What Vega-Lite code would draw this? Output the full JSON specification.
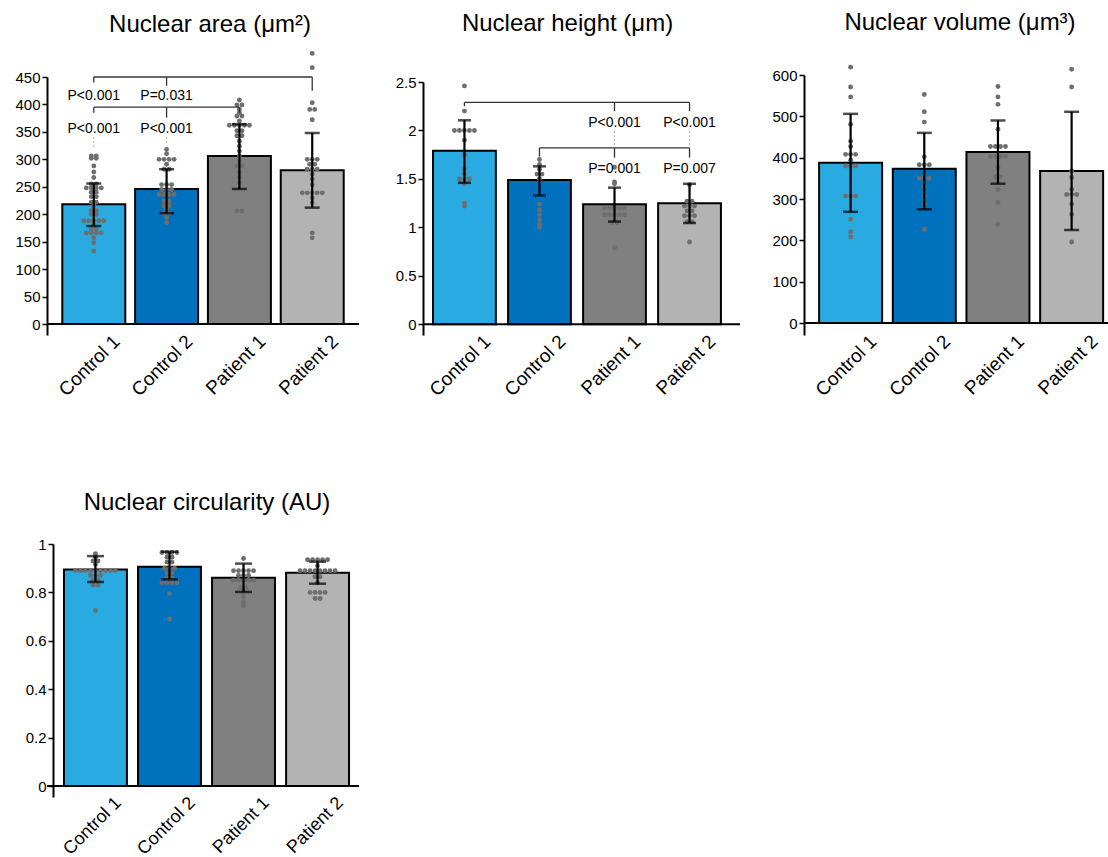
{
  "$schema": "https://vega.github.io/schema/vega-lite/v6.json",
  "padding": {"left": 14, "top": 11, "right": 0, "bottom": 0},
  "background": "white",
  "config": {
    "view": {"stroke": null},
    "font": "Liberation Sans",
    "title": {"fontSize": 24, "font": "Liberation Sans", "fontWeight": "normal", "color": "black", "anchor": "middle"},
    "axisY": {"domainColor": "black", "domainWidth": 2, "tickColor": "black", "tickWidth": 1.5, "tickSize": 5, "labelFontSize": 15, "labelColor": "black", "labelPadding": 2, "grid": false, "labelFont": "Liberation Sans", "labelOverlap": false},
    "axisX": {"domain": false, "ticks": false, "labelAngle": -45, "labelAlign": "right", "labelBaseline": "middle", "labelFontSize": 19, "labelColor": "black", "labelOffset": 23, "labelPadding": 3, "grid": false, "labelFont": "Liberation Sans"}
  },
  "datasets": {
    "summ": [
      {"panel": "area", "group": "Control 1", "mean": 218, "lo": 178.5, "hi": 256},
      {"panel": "area", "group": "Control 2", "mean": 246, "lo": 202, "hi": 282},
      {"panel": "area", "group": "Patient 1", "mean": 306, "lo": 246, "hi": 364},
      {"panel": "area", "group": "Patient 2", "mean": 280, "lo": 212, "hi": 348},
      {"panel": "height", "group": "Control 1", "mean": 1.79, "lo": 1.46, "hi": 2.105},
      {"panel": "height", "group": "Control 2", "mean": 1.49, "lo": 1.33, "hi": 1.63},
      {"panel": "height", "group": "Patient 1", "mean": 1.24, "lo": 1.06, "hi": 1.41},
      {"panel": "height", "group": "Patient 2", "mean": 1.25, "lo": 1.045, "hi": 1.45},
      {"panel": "volume", "group": "Control 1", "mean": 388, "lo": 269, "hi": 506},
      {"panel": "volume", "group": "Control 2", "mean": 373, "lo": 275, "hi": 460},
      {"panel": "volume", "group": "Patient 1", "mean": 414, "lo": 337, "hi": 490},
      {"panel": "volume", "group": "Patient 2", "mean": 368, "lo": 225, "hi": 511},
      {"panel": "circ", "group": "Control 1", "mean": 0.895, "lo": 0.843, "hi": 0.95},
      {"panel": "circ", "group": "Control 2", "mean": 0.906, "lo": 0.854, "hi": 0.968},
      {"panel": "circ", "group": "Patient 1", "mean": 0.861, "lo": 0.802, "hi": 0.919},
      {"panel": "circ", "group": "Patient 2", "mean": 0.881, "lo": 0.836, "hi": 0.927}
    ],
    "pts": [
      {"panel":"area","group":"Control 1","value":306},{"panel":"area","group":"Control 1","value":306},{"panel":"area","group":"Control 1","value":302},{"panel":"area","group":"Control 1","value":302},{"panel":"area","group":"Control 1","value":288},{"panel":"area","group":"Control 1","value":277},{"panel":"area","group":"Control 1","value":267},{"panel":"area","group":"Control 1","value":255},{"panel":"area","group":"Control 1","value":255},{"panel":"area","group":"Control 1","value":248},{"panel":"area","group":"Control 1","value":248},{"panel":"area","group":"Control 1","value":248},{"panel":"area","group":"Control 1","value":248},{"panel":"area","group":"Control 1","value":240},{"panel":"area","group":"Control 1","value":240},{"panel":"area","group":"Control 1","value":232},{"panel":"area","group":"Control 1","value":232},{"panel":"area","group":"Control 1","value":222},{"panel":"area","group":"Control 1","value":222},{"panel":"area","group":"Control 1","value":215},{"panel":"area","group":"Control 1","value":207},{"panel":"area","group":"Control 1","value":207},{"panel":"area","group":"Control 1","value":200},{"panel":"area","group":"Control 1","value":200},{"panel":"area","group":"Control 1","value":188},{"panel":"area","group":"Control 1","value":188},{"panel":"area","group":"Control 1","value":188},{"panel":"area","group":"Control 1","value":188},{"panel":"area","group":"Control 1","value":188},{"panel":"area","group":"Control 1","value":180},{"panel":"area","group":"Control 1","value":172},{"panel":"area","group":"Control 1","value":172},{"panel":"area","group":"Control 1","value":166},{"panel":"area","group":"Control 1","value":166},{"panel":"area","group":"Control 1","value":166},{"panel":"area","group":"Control 1","value":166},{"panel":"area","group":"Control 1","value":157},{"panel":"area","group":"Control 1","value":148},{"panel":"area","group":"Control 1","value":133},
      {"panel":"area","group":"Control 2","value":318},{"panel":"area","group":"Control 2","value":310},{"panel":"area","group":"Control 2","value":300},{"panel":"area","group":"Control 2","value":300},{"panel":"area","group":"Control 2","value":300},{"panel":"area","group":"Control 2","value":300},{"panel":"area","group":"Control 2","value":291},{"panel":"area","group":"Control 2","value":282},{"panel":"area","group":"Control 2","value":282},{"panel":"area","group":"Control 2","value":254},{"panel":"area","group":"Control 2","value":254},{"panel":"area","group":"Control 2","value":254},{"panel":"area","group":"Control 2","value":245},{"panel":"area","group":"Control 2","value":245},{"panel":"area","group":"Control 2","value":245},{"panel":"area","group":"Control 2","value":236},{"panel":"area","group":"Control 2","value":236},{"panel":"area","group":"Control 2","value":236},{"panel":"area","group":"Control 2","value":236},{"panel":"area","group":"Control 2","value":224},{"panel":"area","group":"Control 2","value":224},{"panel":"area","group":"Control 2","value":215},{"panel":"area","group":"Control 2","value":215},{"panel":"area","group":"Control 2","value":209},{"panel":"area","group":"Control 2","value":202},{"panel":"area","group":"Control 2","value":202},{"panel":"area","group":"Control 2","value":194},{"panel":"area","group":"Control 2","value":185},
      {"panel":"area","group":"Patient 1","value":408},{"panel":"area","group":"Patient 1","value":399},{"panel":"area","group":"Patient 1","value":399},{"panel":"area","group":"Patient 1","value":391},{"panel":"area","group":"Patient 1","value":385},{"panel":"area","group":"Patient 1","value":379},{"panel":"area","group":"Patient 1","value":379},{"panel":"area","group":"Patient 1","value":370},{"panel":"area","group":"Patient 1","value":362},{"panel":"area","group":"Patient 1","value":362},{"panel":"area","group":"Patient 1","value":362},{"panel":"area","group":"Patient 1","value":362},{"panel":"area","group":"Patient 1","value":362},{"panel":"area","group":"Patient 1","value":352},{"panel":"area","group":"Patient 1","value":352},{"panel":"area","group":"Patient 1","value":343},{"panel":"area","group":"Patient 1","value":343},{"panel":"area","group":"Patient 1","value":333},{"panel":"area","group":"Patient 1","value":324},{"panel":"area","group":"Patient 1","value":315},{"panel":"area","group":"Patient 1","value":306},{"panel":"area","group":"Patient 1","value":297},{"panel":"area","group":"Patient 1","value":288},{"panel":"area","group":"Patient 1","value":288},{"panel":"area","group":"Patient 1","value":276},{"panel":"area","group":"Patient 1","value":267},{"panel":"area","group":"Patient 1","value":257},{"panel":"area","group":"Patient 1","value":206},{"panel":"area","group":"Patient 1","value":206},
      {"panel":"area","group":"Patient 2","value":493},{"panel":"area","group":"Patient 2","value":467},{"panel":"area","group":"Patient 2","value":403},{"panel":"area","group":"Patient 2","value":391},{"panel":"area","group":"Patient 2","value":391},{"panel":"area","group":"Patient 2","value":372},{"panel":"area","group":"Patient 2","value":300},{"panel":"area","group":"Patient 2","value":300},{"panel":"area","group":"Patient 2","value":300},{"panel":"area","group":"Patient 2","value":291},{"panel":"area","group":"Patient 2","value":291},{"panel":"area","group":"Patient 2","value":282},{"panel":"area","group":"Patient 2","value":282},{"panel":"area","group":"Patient 2","value":282},{"panel":"area","group":"Patient 2","value":273},{"panel":"area","group":"Patient 2","value":264},{"panel":"area","group":"Patient 2","value":254},{"panel":"area","group":"Patient 2","value":239},{"panel":"area","group":"Patient 2","value":239},{"panel":"area","group":"Patient 2","value":239},{"panel":"area","group":"Patient 2","value":239},{"panel":"area","group":"Patient 2","value":239},{"panel":"area","group":"Patient 2","value":230},{"panel":"area","group":"Patient 2","value":221},{"panel":"area","group":"Patient 2","value":166},{"panel":"area","group":"Patient 2","value":157},
      {"panel":"height","group":"Control 1","value":2.46},{"panel":"height","group":"Control 1","value":2.2},{"panel":"height","group":"Control 1","value":2.0},{"panel":"height","group":"Control 1","value":2.0},{"panel":"height","group":"Control 1","value":2.0},{"panel":"height","group":"Control 1","value":2.0},{"panel":"height","group":"Control 1","value":2.0},{"panel":"height","group":"Control 1","value":1.9},{"panel":"height","group":"Control 1","value":1.75},{"panel":"height","group":"Control 1","value":1.6},{"panel":"height","group":"Control 1","value":1.55},{"panel":"height","group":"Control 1","value":1.5},{"panel":"height","group":"Control 1","value":1.5},{"panel":"height","group":"Control 1","value":1.5},{"panel":"height","group":"Control 1","value":1.45},{"panel":"height","group":"Control 1","value":1.25},{"panel":"height","group":"Control 1","value":1.22},
      {"panel":"height","group":"Control 2","value":1.7},{"panel":"height","group":"Control 2","value":1.65},{"panel":"height","group":"Control 2","value":1.6},{"panel":"height","group":"Control 2","value":1.55},{"panel":"height","group":"Control 2","value":1.55},{"panel":"height","group":"Control 2","value":1.5},{"panel":"height","group":"Control 2","value":1.24},{"panel":"height","group":"Control 2","value":1.18},{"panel":"height","group":"Control 2","value":1.13},{"panel":"height","group":"Control 2","value":1.08},{"panel":"height","group":"Control 2","value":1.03},{"panel":"height","group":"Control 2","value":1.0},
      {"panel":"height","group":"Patient 1","value":1.62},{"panel":"height","group":"Patient 1","value":1.47},{"panel":"height","group":"Patient 1","value":1.45},{"panel":"height","group":"Patient 1","value":1.2},{"panel":"height","group":"Patient 1","value":1.2},{"panel":"height","group":"Patient 1","value":1.2},{"panel":"height","group":"Patient 1","value":1.2},{"panel":"height","group":"Patient 1","value":1.2},{"panel":"height","group":"Patient 1","value":1.13},{"panel":"height","group":"Patient 1","value":1.13},{"panel":"height","group":"Patient 1","value":1.13},{"panel":"height","group":"Patient 1","value":1.13},{"panel":"height","group":"Patient 1","value":1.13},{"panel":"height","group":"Patient 1","value":1.05},{"panel":"height","group":"Patient 1","value":1.05},{"panel":"height","group":"Patient 1","value":0.79},
      {"panel":"height","group":"Patient 2","value":1.44},{"panel":"height","group":"Patient 2","value":1.27},{"panel":"height","group":"Patient 2","value":1.27},{"panel":"height","group":"Patient 2","value":1.22},{"panel":"height","group":"Patient 2","value":1.22},{"panel":"height","group":"Patient 2","value":1.22},{"panel":"height","group":"Patient 2","value":1.17},{"panel":"height","group":"Patient 2","value":1.17},{"panel":"height","group":"Patient 2","value":1.12},{"panel":"height","group":"Patient 2","value":1.12},{"panel":"height","group":"Patient 2","value":1.12},{"panel":"height","group":"Patient 2","value":1.06},{"panel":"height","group":"Patient 2","value":1.06},{"panel":"height","group":"Patient 2","value":0.85},
      {"panel":"volume","group":"Control 1","value":619},{"panel":"volume","group":"Control 1","value":571},{"panel":"volume","group":"Control 1","value":547},{"panel":"volume","group":"Control 1","value":481},{"panel":"volume","group":"Control 1","value":440},{"panel":"volume","group":"Control 1","value":427},{"panel":"volume","group":"Control 1","value":408},{"panel":"volume","group":"Control 1","value":408},{"panel":"volume","group":"Control 1","value":408},{"panel":"volume","group":"Control 1","value":394},{"panel":"volume","group":"Control 1","value":380},{"panel":"volume","group":"Control 1","value":380},{"panel":"volume","group":"Control 1","value":380},{"panel":"volume","group":"Control 1","value":307},{"panel":"volume","group":"Control 1","value":307},{"panel":"volume","group":"Control 1","value":307},{"panel":"volume","group":"Control 1","value":251},{"panel":"volume","group":"Control 1","value":221},{"panel":"volume","group":"Control 1","value":208},
      {"panel":"volume","group":"Control 2","value":553},{"panel":"volume","group":"Control 2","value":511},{"panel":"volume","group":"Control 2","value":486},{"panel":"volume","group":"Control 2","value":402},{"panel":"volume","group":"Control 2","value":383},{"panel":"volume","group":"Control 2","value":383},{"panel":"volume","group":"Control 2","value":383},{"panel":"volume","group":"Control 2","value":350},{"panel":"volume","group":"Control 2","value":350},{"panel":"volume","group":"Control 2","value":350},{"panel":"volume","group":"Control 2","value":330},{"panel":"volume","group":"Control 2","value":307},{"panel":"volume","group":"Control 2","value":287},{"panel":"volume","group":"Control 2","value":227},
      {"panel":"volume","group":"Patient 1","value":572},{"panel":"volume","group":"Patient 1","value":547},{"panel":"volume","group":"Patient 1","value":529},{"panel":"volume","group":"Patient 1","value":469},{"panel":"volume","group":"Patient 1","value":427},{"panel":"volume","group":"Patient 1","value":427},{"panel":"volume","group":"Patient 1","value":427},{"panel":"volume","group":"Patient 1","value":427},{"panel":"volume","group":"Patient 1","value":403},{"panel":"volume","group":"Patient 1","value":403},{"panel":"volume","group":"Patient 1","value":403},{"panel":"volume","group":"Patient 1","value":403},{"panel":"volume","group":"Patient 1","value":377},{"panel":"volume","group":"Patient 1","value":353},{"panel":"volume","group":"Patient 1","value":353},{"panel":"volume","group":"Patient 1","value":323},{"panel":"volume","group":"Patient 1","value":292},{"panel":"volume","group":"Patient 1","value":239},
      {"panel":"volume","group":"Patient 2","value":614},{"panel":"volume","group":"Patient 2","value":571},{"panel":"volume","group":"Patient 2","value":368},{"panel":"volume","group":"Patient 2","value":352},{"panel":"volume","group":"Patient 2","value":323},{"panel":"volume","group":"Patient 2","value":311},{"panel":"volume","group":"Patient 2","value":311},{"panel":"volume","group":"Patient 2","value":311},{"panel":"volume","group":"Patient 2","value":288},{"panel":"volume","group":"Patient 2","value":263},{"panel":"volume","group":"Patient 2","value":196},
      {"panel":"circ","group":"Control 1","value":0.96},{"panel":"circ","group":"Control 1","value":0.945},{"panel":"circ","group":"Control 1","value":0.93},{"panel":"circ","group":"Control 1","value":0.93},{"panel":"circ","group":"Control 1","value":0.915},{"panel":"circ","group":"Control 1","value":0.89},{"panel":"circ","group":"Control 1","value":0.89},{"panel":"circ","group":"Control 1","value":0.89},{"panel":"circ","group":"Control 1","value":0.89},{"panel":"circ","group":"Control 1","value":0.89},{"panel":"circ","group":"Control 1","value":0.89},{"panel":"circ","group":"Control 1","value":0.89},{"panel":"circ","group":"Control 1","value":0.89},{"panel":"circ","group":"Control 1","value":0.89},{"panel":"circ","group":"Control 1","value":0.87},{"panel":"circ","group":"Control 1","value":0.87},{"panel":"circ","group":"Control 1","value":0.87},{"panel":"circ","group":"Control 1","value":0.85},{"panel":"circ","group":"Control 1","value":0.85},{"panel":"circ","group":"Control 1","value":0.83},{"panel":"circ","group":"Control 1","value":0.83},{"panel":"circ","group":"Control 1","value":0.725},
      {"panel":"circ","group":"Control 2","value":0.965},{"panel":"circ","group":"Control 2","value":0.965},{"panel":"circ","group":"Control 2","value":0.965},{"panel":"circ","group":"Control 2","value":0.965},{"panel":"circ","group":"Control 2","value":0.945},{"panel":"circ","group":"Control 2","value":0.945},{"panel":"circ","group":"Control 2","value":0.925},{"panel":"circ","group":"Control 2","value":0.925},{"panel":"circ","group":"Control 2","value":0.9},{"panel":"circ","group":"Control 2","value":0.9},{"panel":"circ","group":"Control 2","value":0.9},{"panel":"circ","group":"Control 2","value":0.88},{"panel":"circ","group":"Control 2","value":0.88},{"panel":"circ","group":"Control 2","value":0.86},{"panel":"circ","group":"Control 2","value":0.86},{"panel":"circ","group":"Control 2","value":0.84},{"panel":"circ","group":"Control 2","value":0.84},{"panel":"circ","group":"Control 2","value":0.84},{"panel":"circ","group":"Control 2","value":0.84},{"panel":"circ","group":"Control 2","value":0.795},{"panel":"circ","group":"Control 2","value":0.69},
      {"panel":"circ","group":"Patient 1","value":0.94},{"panel":"circ","group":"Patient 1","value":0.89},{"panel":"circ","group":"Patient 1","value":0.89},{"panel":"circ","group":"Patient 1","value":0.89},{"panel":"circ","group":"Patient 1","value":0.89},{"panel":"circ","group":"Patient 1","value":0.89},{"panel":"circ","group":"Patient 1","value":0.87},{"panel":"circ","group":"Patient 1","value":0.87},{"panel":"circ","group":"Patient 1","value":0.87},{"panel":"circ","group":"Patient 1","value":0.85},{"panel":"circ","group":"Patient 1","value":0.85},{"panel":"circ","group":"Patient 1","value":0.85},{"panel":"circ","group":"Patient 1","value":0.85},{"panel":"circ","group":"Patient 1","value":0.85},{"panel":"circ","group":"Patient 1","value":0.82},{"panel":"circ","group":"Patient 1","value":0.82},{"panel":"circ","group":"Patient 1","value":0.8},{"panel":"circ","group":"Patient 1","value":0.78},{"panel":"circ","group":"Patient 1","value":0.76},{"panel":"circ","group":"Patient 1","value":0.745},
      {"panel":"circ","group":"Patient 2","value":0.935},{"panel":"circ","group":"Patient 2","value":0.935},{"panel":"circ","group":"Patient 2","value":0.935},{"panel":"circ","group":"Patient 2","value":0.935},{"panel":"circ","group":"Patient 2","value":0.935},{"panel":"circ","group":"Patient 2","value":0.91},{"panel":"circ","group":"Patient 2","value":0.89},{"panel":"circ","group":"Patient 2","value":0.89},{"panel":"circ","group":"Patient 2","value":0.89},{"panel":"circ","group":"Patient 2","value":0.89},{"panel":"circ","group":"Patient 2","value":0.89},{"panel":"circ","group":"Patient 2","value":0.89},{"panel":"circ","group":"Patient 2","value":0.89},{"panel":"circ","group":"Patient 2","value":0.89},{"panel":"circ","group":"Patient 2","value":0.865},{"panel":"circ","group":"Patient 2","value":0.865},{"panel":"circ","group":"Patient 2","value":0.84},{"panel":"circ","group":"Patient 2","value":0.8},{"panel":"circ","group":"Patient 2","value":0.8},{"panel":"circ","group":"Patient 2","value":0.8},{"panel":"circ","group":"Patient 2","value":0.8},{"panel":"circ","group":"Patient 2","value":0.775},{"panel":"circ","group":"Patient 2","value":0.775}
    ],
    "brk": [
      {"panel": "area", "from": "Control 1", "to": "Patient 2", "y": 450},
      {"panel": "area", "from": "Control 1", "to": "Patient 1", "y": 395},
      {"panel": "height", "from": "Control 1", "to": "Patient 2", "y": 2.29},
      {"panel": "height", "from": "Control 2", "to": "Patient 2", "y": 1.82}
    ],
    "vt": [
      {"panel": "area", "group": "Control 1", "y1": 450, "y2": 440, "kind": "solid"},
      {"panel": "area", "group": "Control 2", "y1": 450, "y2": 434, "kind": "solid"},
      {"panel": "area", "group": "Patient 2", "y1": 450, "y2": 425, "kind": "solid"},
      {"panel": "area", "group": "Control 1", "y1": 395, "y2": 385, "kind": "solid"},
      {"panel": "area", "group": "Control 2", "y1": 395, "y2": 376, "kind": "solid"},
      {"panel": "area", "group": "Patient 1", "y1": 395, "y2": 385, "kind": "solid"},
      {"panel": "area", "group": "Control 1", "y1": 340, "y2": 320, "kind": "dotted"},
      {"panel": "area", "group": "Control 2", "y1": 340, "y2": 325, "kind": "dotted"},
      {"panel": "height", "group": "Control 1", "y1": 2.29, "y2": 2.25, "kind": "solid"},
      {"panel": "height", "group": "Patient 1", "y1": 2.29, "y2": 2.2, "kind": "solid"},
      {"panel": "height", "group": "Patient 2", "y1": 2.29, "y2": 2.2, "kind": "solid"},
      {"panel": "height", "group": "Control 2", "y1": 1.82, "y2": 1.73, "kind": "solid"},
      {"panel": "height", "group": "Patient 1", "y1": 1.82, "y2": 1.72, "kind": "solid"},
      {"panel": "height", "group": "Patient 2", "y1": 1.82, "y2": 1.72, "kind": "solid"},
      {"panel": "height", "group": "Patient 1", "y1": 1.99, "y2": 1.85, "kind": "dotted"},
      {"panel": "height", "group": "Patient 2", "y1": 1.99, "y2": 1.85, "kind": "dotted"}
    ],
    "txt": [
      {"panel": "area", "group": "Control 1", "y": 415, "label": "P<0.001"},
      {"panel": "area", "group": "Control 2", "y": 415, "label": "P=0.031"},
      {"panel": "area", "group": "Control 1", "y": 356, "label": "P<0.001"},
      {"panel": "area", "group": "Control 2", "y": 356, "label": "P<0.001"},
      {"panel": "height", "group": "Patient 1", "y": 2.08, "label": "P<0.001"},
      {"panel": "height", "group": "Patient 2", "y": 2.08, "label": "P<0.001"},
      {"panel": "height", "group": "Patient 1", "y": 1.6, "label": "P=0.001"},
      {"panel": "height", "group": "Patient 2", "y": 1.6, "label": "P=0.007"}
    ]
  },
  "columns": 3,
  "bounds": "flush",
  "align": "each",
  "spacing": {"row": 209, "column": 64},
  "concat": [
    {
      "width": 312, "height": 260,
      "title": {"text": "Nuclear area (μm²)", "offset": 14.4, "dx": 7},
      "resolve": {"scale": {"xOffset": "independent"}},
      "layer": [
        {"data": {"name": "summ"}, "transform": [{"filter": "datum.panel === 'area'"}],
         "mark": {"type": "bar", "stroke": "black", "strokeWidth": 2},
         "encoding": {
           "x": {"field": "group", "type": "nominal", "title": null, "scale": {"domain": ["Control 1", "Control 2", "Patient 1", "Patient 2"], "paddingInner": 0.135, "paddingOuter": 0.21}},
           "y": {"field": "mean", "type": "quantitative", "title": null, "scale": {"domain": [-20, 450], "range": [260, 2], "nice": false, "zero": false}, "axis": {"values": [0, 50, 100, 150, 200, 250, 300, 350, 400, 450]}},
           "y2": {"datum": 0},
           "color": {"field": "group", "type": "nominal", "scale": {"domain": ["Control 1", "Control 2", "Patient 1", "Patient 2"], "range": ["#29abe2", "#0071bc", "#808080", "#b3b3b3"]}, "legend": null}
         }},
        {"data": {"name": "summ"}, "transform": [{"filter": "datum.panel === 'area' && datum.group === 'Control 1'"}],
         "mark": {"type": "rule", "color": "black", "strokeWidth": 2},
         "encoding": {"y": {"datum": 0, "title": null, "axis": {"values": [0, 50, 100, 150, 200, 250, 300, 350, 400, 450]}}}},
        {"data": {"name": "pts"}, "transform": [{"filter": "datum.panel === 'area'"}, {"window": [{"op": "row_number", "as": "k"}, {"op": "count", "as": "n"}], "groupby": ["panel", "group", "value"], "frame": [null, null]}, {"calculate": "datum.k - (datum.n + 1) / 2", "as": "off"}],
         "mark": {"type": "circle", "size": 24, "color": "#6e6e6e", "opacity": 1},
         "encoding": {
           "x": {"field": "group", "type": "nominal", "title": null},
           "xOffset": {"field": "off", "type": "quantitative", "scale": {"domain": [-6.3, 6.3]}},
           "y": {"field": "value", "type": "quantitative", "title": null, "axis": {"values": [0, 50, 100, 150, 200, 250, 300, 350, 400, 450]}}
         }},
        {"data": {"name": "summ"}, "transform": [{"filter": "datum.panel === 'area'"}],
         "mark": {"type": "rule", "color": "black", "strokeWidth": 2.2},
         "encoding": {"x": {"field": "group", "type": "nominal", "title": null}, "y": {"field": "lo", "type": "quantitative", "title": null, "axis": {"values": [0, 50, 100, 150, 200, 250, 300, 350, 400, 450]}}, "y2": {"field": "hi"}}},
        {"data": {"name": "summ"}, "transform": [{"filter": "datum.panel === 'area'"}],
         "mark": {"type": "tick", "orient": "horizontal", "color": "black", "size": 15, "thickness": 2.5},
         "encoding": {"x": {"field": "group", "type": "nominal", "title": null}, "y": {"field": "lo", "type": "quantitative", "title": null, "axis": {"values": [0, 50, 100, 150, 200, 250, 300, 350, 400, 450]}}}},
        {"data": {"name": "summ"}, "transform": [{"filter": "datum.panel === 'area'"}],
         "mark": {"type": "tick", "orient": "horizontal", "color": "black", "size": 15, "thickness": 2.5},
         "encoding": {"x": {"field": "group", "type": "nominal", "title": null}, "y": {"field": "hi", "type": "quantitative", "title": null, "axis": {"values": [0, 50, 100, 150, 200, 250, 300, 350, 400, 450]}}}},
        {"data": {"name": "brk"}, "transform": [{"filter": "datum.panel === 'area'"}],
         "mark": {"type": "rule", "color": "#333333", "strokeWidth": 1.3},
         "encoding": {"x": {"field": "from", "type": "nominal", "title": null}, "x2": {"field": "to"}, "y": {"field": "y", "type": "quantitative", "title": null, "axis": {"values": [0, 50, 100, 150, 200, 250, 300, 350, 400, 450]}}}},
        {"data": {"name": "vt"}, "transform": [{"filter": "datum.panel === 'area' && datum.kind === 'solid'"}],
         "mark": {"type": "rule", "color": "#333333", "strokeWidth": 1.3},
         "encoding": {"x": {"field": "group", "type": "nominal", "title": null}, "y": {"field": "y1", "type": "quantitative", "title": null, "axis": {"values": [0, 50, 100, 150, 200, 250, 300, 350, 400, 450]}}, "y2": {"field": "y2"}}},
        {"data": {"name": "vt"}, "transform": [{"filter": "datum.panel === 'area' && datum.kind === 'dotted'"}],
         "mark": {"type": "rule", "color": "#999999", "strokeWidth": 1, "strokeDash": [1.5, 2.5]},
         "encoding": {"x": {"field": "group", "type": "nominal", "title": null}, "y": {"field": "y1", "type": "quantitative", "title": null, "axis": {"values": [0, 50, 100, 150, 200, 250, 300, 350, 400, 450]}}, "y2": {"field": "y2"}}},
        {"data": {"name": "txt"}, "transform": [{"filter": "datum.panel === 'area'"}],
         "mark": {"type": "text", "fontSize": 14, "color": "black", "font": "Liberation Sans", "baseline": "middle", "align": "center"},
         "encoding": {"x": {"field": "group", "type": "nominal", "title": null}, "y": {"field": "y", "type": "quantitative", "title": null, "axis": {"values": [0, 50, 100, 150, 200, 250, 300, 350, 400, 450]}}, "text": {"field": "label"}}}
      ]
    },
    {
      "width": 317, "height": 260,
      "title": {"text": "Nuclear height (μm)", "offset": 39.4, "dx": -14},
      "resolve": {"scale": {"xOffset": "independent"}},
      "layer": [
        {"data": {"name": "summ"}, "transform": [{"filter": "datum.panel === 'height'"}],
         "mark": {"type": "bar", "stroke": "black", "strokeWidth": 2},
         "encoding": {
           "x": {"field": "group", "type": "nominal", "title": null, "scale": {"domain": ["Control 1", "Control 2", "Patient 1", "Patient 2"], "paddingInner": 0.163, "paddingOuter": 0.194, "align": 0.345}},
           "y": {"field": "mean", "type": "quantitative", "title": null, "scale": {"domain": [-0.11, 2.5], "range": [260, 7], "nice": false, "zero": false}, "axis": {"values": [0, 0.5, 1, 1.5, 2, 2.5], "format": "~g"}},
           "y2": {"datum": 0},
           "color": {"field": "group", "type": "nominal", "scale": {"domain": ["Control 1", "Control 2", "Patient 1", "Patient 2"], "range": ["#29abe2", "#0071bc", "#808080", "#b3b3b3"]}, "legend": null}
         }},
        {"data": {"name": "summ"}, "transform": [{"filter": "datum.panel === 'height' && datum.group === 'Control 1'"}],
         "mark": {"type": "rule", "color": "black", "strokeWidth": 2},
         "encoding": {"y": {"datum": 0, "title": null, "axis": {"values": [0, 0.5, 1, 1.5, 2, 2.5], "format": "~g"}}}},
        {"data": {"name": "pts"}, "transform": [{"filter": "datum.panel === 'height'"}, {"window": [{"op": "row_number", "as": "k"}, {"op": "count", "as": "n"}], "groupby": ["panel", "group", "value"], "frame": [null, null]}, {"calculate": "datum.k - (datum.n + 1) / 2", "as": "off"}],
         "mark": {"type": "circle", "size": 24, "color": "#6e6e6e", "opacity": 1},
         "encoding": {
           "x": {"field": "group", "type": "nominal", "title": null},
           "xOffset": {"field": "off", "type": "quantitative", "scale": {"domain": [-6.3, 6.3]}},
           "y": {"field": "value", "type": "quantitative", "title": null, "axis": {"values": [0, 0.5, 1, 1.5, 2, 2.5], "format": "~g"}}
         }},
        {"data": {"name": "summ"}, "transform": [{"filter": "datum.panel === 'height'"}],
         "mark": {"type": "rule", "color": "black", "strokeWidth": 2.2},
         "encoding": {"x": {"field": "group", "type": "nominal", "title": null}, "y": {"field": "lo", "type": "quantitative", "title": null, "axis": {"values": [0, 0.5, 1, 1.5, 2, 2.5], "format": "~g"}}, "y2": {"field": "hi"}}},
        {"data": {"name": "summ"}, "transform": [{"filter": "datum.panel === 'height'"}],
         "mark": {"type": "tick", "orient": "horizontal", "color": "black", "size": 13, "thickness": 2.5},
         "encoding": {"x": {"field": "group", "type": "nominal", "title": null}, "y": {"field": "lo", "type": "quantitative", "title": null, "axis": {"values": [0, 0.5, 1, 1.5, 2, 2.5], "format": "~g"}}}},
        {"data": {"name": "summ"}, "transform": [{"filter": "datum.panel === 'height'"}],
         "mark": {"type": "tick", "orient": "horizontal", "color": "black", "size": 13, "thickness": 2.5},
         "encoding": {"x": {"field": "group", "type": "nominal", "title": null}, "y": {"field": "hi", "type": "quantitative", "title": null, "axis": {"values": [0, 0.5, 1, 1.5, 2, 2.5], "format": "~g"}}}},
        {"data": {"name": "brk"}, "transform": [{"filter": "datum.panel === 'height'"}],
         "mark": {"type": "rule", "color": "#333333", "strokeWidth": 1.3},
         "encoding": {"x": {"field": "from", "type": "nominal", "title": null}, "x2": {"field": "to"}, "y": {"field": "y", "type": "quantitative", "title": null, "axis": {"values": [0, 0.5, 1, 1.5, 2, 2.5], "format": "~g"}}}},
        {"data": {"name": "vt"}, "transform": [{"filter": "datum.panel === 'height' && datum.kind === 'solid'"}],
         "mark": {"type": "rule", "color": "#333333", "strokeWidth": 1.3},
         "encoding": {"x": {"field": "group", "type": "nominal", "title": null}, "y": {"field": "y1", "type": "quantitative", "title": null, "axis": {"values": [0, 0.5, 1, 1.5, 2, 2.5], "format": "~g"}}, "y2": {"field": "y2"}}},
        {"data": {"name": "vt"}, "transform": [{"filter": "datum.panel === 'height' && datum.kind === 'dotted'"}],
         "mark": {"type": "rule", "color": "#999999", "strokeWidth": 1, "strokeDash": [1.5, 2.5]},
         "encoding": {"x": {"field": "group", "type": "nominal", "title": null}, "y": {"field": "y1", "type": "quantitative", "title": null, "axis": {"values": [0, 0.5, 1, 1.5, 2, 2.5], "format": "~g"}}, "y2": {"field": "y2"}}},
        {"data": {"name": "txt"}, "transform": [{"filter": "datum.panel === 'height'"}],
         "mark": {"type": "text", "fontSize": 14, "color": "black", "font": "Liberation Sans", "baseline": "middle", "align": "center"},
         "encoding": {"x": {"field": "group", "type": "nominal", "title": null}, "y": {"field": "y", "type": "quantitative", "title": null, "axis": {"values": [0, 0.5, 1, 1.5, 2, 2.5], "format": "~g"}}, "text": {"field": "label"}}}
      ]
    },
    {
      "width": 312, "height": 260,
      "title": {"text": "Nuclear volume (μm³)", "offset": 29.4},
      "resolve": {"scale": {"xOffset": "independent"}},
      "layer": [
        {"data": {"name": "summ"}, "transform": [{"filter": "datum.panel === 'volume'"}],
         "mark": {"type": "bar", "stroke": "black", "strokeWidth": 2},
         "encoding": {
           "x": {"field": "group", "type": "nominal", "title": null, "scale": {"domain": ["Control 1", "Control 2", "Patient 1", "Patient 2"], "paddingInner": 0.145, "paddingOuter": 0.19, "align": 0.54}},
           "y": {"field": "mean", "type": "quantitative", "title": null, "scale": {"domain": [-29, 600], "range": [260, 0], "nice": false, "zero": false}, "axis": {"values": [0, 100, 200, 300, 400, 500, 600]}},
           "y2": {"datum": 0},
           "color": {"field": "group", "type": "nominal", "scale": {"domain": ["Control 1", "Control 2", "Patient 1", "Patient 2"], "range": ["#29abe2", "#0071bc", "#808080", "#b3b3b3"]}, "legend": null}
         }},
        {"data": {"name": "summ"}, "transform": [{"filter": "datum.panel === 'volume' && datum.group === 'Control 1'"}],
         "mark": {"type": "rule", "color": "black", "strokeWidth": 2},
         "encoding": {"y": {"datum": 0, "title": null, "axis": {"values": [0, 100, 200, 300, 400, 500, 600]}}}},
        {"data": {"name": "pts"}, "transform": [{"filter": "datum.panel === 'volume'"}, {"window": [{"op": "row_number", "as": "k"}, {"op": "count", "as": "n"}], "groupby": ["panel", "group", "value"], "frame": [null, null]}, {"calculate": "datum.k - (datum.n + 1) / 2", "as": "off"}],
         "mark": {"type": "circle", "size": 24, "color": "#6e6e6e", "opacity": 1},
         "encoding": {
           "x": {"field": "group", "type": "nominal", "title": null},
           "xOffset": {"field": "off", "type": "quantitative", "scale": {"domain": [-6.3, 6.3]}},
           "y": {"field": "value", "type": "quantitative", "title": null, "axis": {"values": [0, 100, 200, 300, 400, 500, 600]}}
         }},
        {"data": {"name": "summ"}, "transform": [{"filter": "datum.panel === 'volume'"}],
         "mark": {"type": "rule", "color": "black", "strokeWidth": 2.2},
         "encoding": {"x": {"field": "group", "type": "nominal", "title": null}, "y": {"field": "lo", "type": "quantitative", "title": null, "axis": {"values": [0, 100, 200, 300, 400, 500, 600]}}, "y2": {"field": "hi"}}},
        {"data": {"name": "summ"}, "transform": [{"filter": "datum.panel === 'volume'"}],
         "mark": {"type": "tick", "orient": "horizontal", "color": "black", "size": 15, "thickness": 2.5},
         "encoding": {"x": {"field": "group", "type": "nominal", "title": null}, "y": {"field": "lo", "type": "quantitative", "title": null, "axis": {"values": [0, 100, 200, 300, 400, 500, 600]}}}},
        {"data": {"name": "summ"}, "transform": [{"filter": "datum.panel === 'volume'"}],
         "mark": {"type": "tick", "orient": "horizontal", "color": "black", "size": 15, "thickness": 2.5},
         "encoding": {"x": {"field": "group", "type": "nominal", "title": null}, "y": {"field": "hi", "type": "quantitative", "title": null, "axis": {"values": [0, 100, 200, 300, 400, 500, 600]}}}}
      ]
    },
    {
      "width": 312, "height": 253,
      "title": {"text": "Nuclear circularity (AU)", "offset": 22, "dx": 4},
      "resolve": {"scale": {"xOffset": "independent"}},
      "layer": [
        {"data": {"name": "summ"}, "transform": [{"filter": "datum.panel === 'circ'"}],
         "mark": {"type": "bar", "stroke": "black", "strokeWidth": 2},
         "encoding": {
           "x": {"field": "group", "type": "nominal", "title": null, "axis": {"labelFontSize": 18}, "scale": {"domain": ["Control 1", "Control 2", "Patient 1", "Patient 2"], "paddingInner": 0.15, "paddingOuter": 0.182, "align": 0.63}},
           "y": {"field": "mean", "type": "quantitative", "title": null, "scale": {"domain": [-0.045, 1], "range": [253, 0], "nice": false, "zero": false}, "axis": {"values": [0, 0.2, 0.4, 0.6, 0.8, 1], "format": "~g", "offset": -6}},
           "y2": {"datum": 0},
           "color": {"field": "group", "type": "nominal", "scale": {"domain": ["Control 1", "Control 2", "Patient 1", "Patient 2"], "range": ["#29abe2", "#0071bc", "#808080", "#b3b3b3"]}, "legend": null}
         }},
        {"data": {"name": "summ"}, "transform": [{"filter": "datum.panel === 'circ' && datum.group === 'Control 1'"}],
         "mark": {"type": "rule", "color": "black", "strokeWidth": 2},
         "encoding": {"y": {"datum": 0, "title": null, "axis": {"values": [0, 0.2, 0.4, 0.6, 0.8, 1], "format": "~g", "offset": -6}}}},
        {"data": {"name": "pts"}, "transform": [{"filter": "datum.panel === 'circ'"}, {"window": [{"op": "row_number", "as": "k"}, {"op": "count", "as": "n"}], "groupby": ["panel", "group", "value"], "frame": [null, null]}, {"calculate": "datum.k - (datum.n + 1) / 2", "as": "off"}],
         "mark": {"type": "circle", "size": 24, "color": "#6e6e6e", "opacity": 1},
         "encoding": {
           "x": {"field": "group", "type": "nominal", "title": null, "axis": {"labelFontSize": 18}},
           "xOffset": {"field": "off", "type": "quantitative", "scale": {"domain": [-6.3, 6.3]}},
           "y": {"field": "value", "type": "quantitative", "title": null, "axis": {"values": [0, 0.2, 0.4, 0.6, 0.8, 1], "format": "~g", "offset": -6}}
         }},
        {"data": {"name": "summ"}, "transform": [{"filter": "datum.panel === 'circ'"}],
         "mark": {"type": "rule", "color": "black", "strokeWidth": 2.2},
         "encoding": {"x": {"field": "group", "type": "nominal", "title": null, "axis": {"labelFontSize": 18}}, "y": {"field": "lo", "type": "quantitative", "title": null, "axis": {"values": [0, 0.2, 0.4, 0.6, 0.8, 1], "format": "~g", "offset": -6}}, "y2": {"field": "hi"}}},
        {"data": {"name": "summ"}, "transform": [{"filter": "datum.panel === 'circ'"}],
         "mark": {"type": "tick", "orient": "horizontal", "color": "black", "size": 17, "thickness": 2.5},
         "encoding": {"x": {"field": "group", "type": "nominal", "title": null, "axis": {"labelFontSize": 18}}, "y": {"field": "lo", "type": "quantitative", "title": null, "axis": {"values": [0, 0.2, 0.4, 0.6, 0.8, 1], "format": "~g", "offset": -6}}}},
        {"data": {"name": "summ"}, "transform": [{"filter": "datum.panel === 'circ'"}],
         "mark": {"type": "tick", "orient": "horizontal", "color": "black", "size": 17, "thickness": 2.5},
         "encoding": {"x": {"field": "group", "type": "nominal", "title": null, "axis": {"labelFontSize": 18}}, "y": {"field": "hi", "type": "quantitative", "title": null, "axis": {"values": [0, 0.2, 0.4, 0.6, 0.8, 1], "format": "~g", "offset": -6}}}}
      ]
    }
  ]
}
